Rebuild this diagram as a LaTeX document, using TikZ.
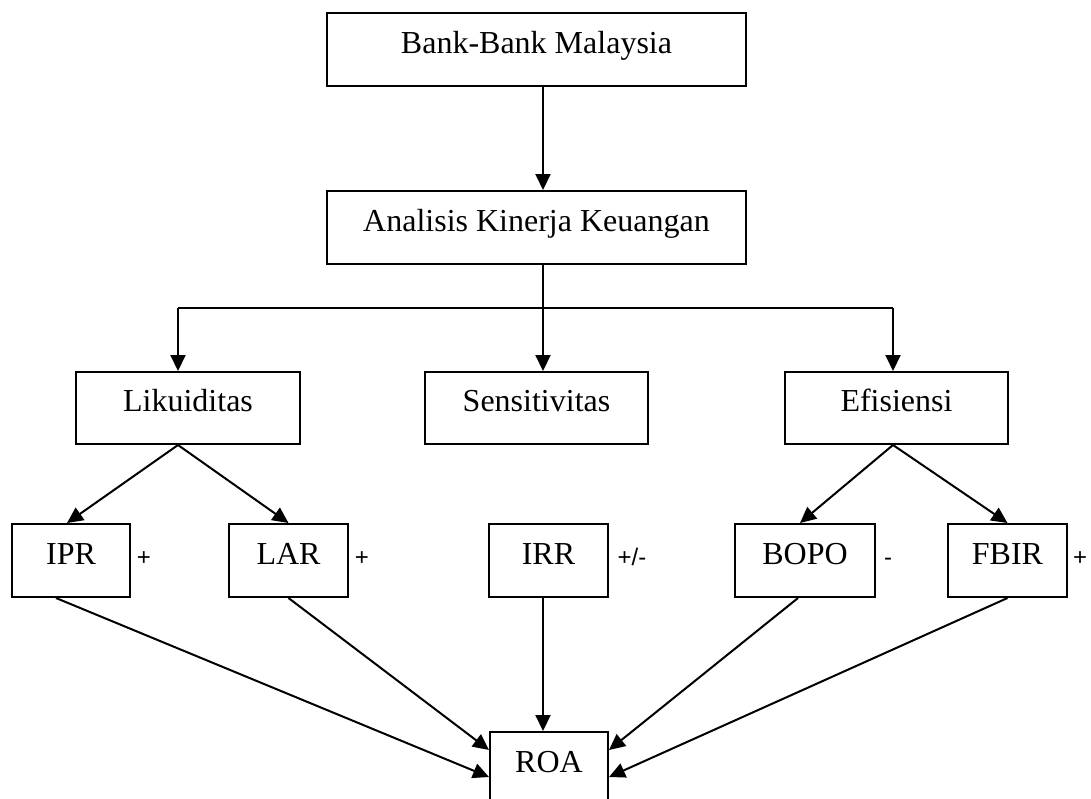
\documentclass[tikz,border=0pt]{standalone}
\usepackage{fontspec}
\setmainfont{Liberation Serif}
\newfontfamily\signfont{Liberation Sans}
\usetikzlibrary{arrows.meta,calc}
\begin{document}
\begin{tikzpicture}[x=0.5pt,y=-0.5pt,
  box/.style={draw,line width=1pt,rectangle,inner sep=0pt,text height=10.6pt,text depth=7pt,font=\fontsize{16}{19}\selectfont},
  sign/.style={inner sep=0pt,anchor=base,font=\signfont\fontsize{12}{14}\selectfont},
  arr/.style={line width=1pt,-{Triangle[length=8pt,width=7.5pt]}},
  ln/.style={line width=1pt}]
\useasboundingbox (0,0) rectangle (1091,798);
% top
\node[box,minimum width=209.5pt,minimum height=36.5pt] (bank) at (536.5,49.5) {Bank-Bank Malaysia};
\node[box,minimum width=209.5pt,minimum height=36.5pt] (ana) at (536.5,227.5) {Analisis Kinerja Keuangan};
% second row
\node[box,minimum width=112pt,minimum height=36pt] (lik) at (188,408) {Likuiditas};
\node[box,minimum width=111.5pt,minimum height=36pt] (sens) at (536.5,408) {Sensitivitas};
\node[box,minimum width=111.5pt,minimum height=36pt] (efi) at (896.5,408) {Efisiensi};
% third row
\node[box,minimum width=59pt,minimum height=36.5pt] (ipr) at (71,560.5) {IPR};
\node[box,minimum width=59.5pt,minimum height=36.5pt] (lar) at (288.5,560.5) {LAR};
\node[box,minimum width=59.5pt,minimum height=36.5pt] (irr) at (548.5,560.5) {IRR};
\node[box,minimum width=70pt,minimum height=36.5pt] (bopo) at (805,560.5) {BOPO};
\node[box,minimum width=59.5pt,minimum height=36.5pt] (fbir) at (1007.5,560.5) {FBIR};
% bottom
\node[box,minimum width=59pt,minimum height=36.5pt] (roa) at (549,768.5) {ROA};
% signs
\node[sign] (s1) at (144,565) {+};
\node[sign] (s2) at (362,565) {+};
\node[sign] (s3) at (632,565) {+/-};
\node[sign] (s4) at (888,565) {-};
\node[sign] (s5) at (1080,565) {+};
% branch points
\coordinate (bm) at (543,308);
\coordinate (bl) at (178,308);
\coordinate (br) at (893,308);
% connectors
\draw[arr] (bank.south -| bm) -- (ana.north -| bm);
\draw[ln] (ana.south -| bm) -- (bm);
\draw[ln] (bl) -- (br);
\draw[arr] (bm) -- (sens.north -| bm);
\draw[arr] (bl) -- (lik.north -| bl);
\draw[arr] (br) -- (efi.north -| br);
\draw[arr] (lik.south -| bl) -- ($(ipr.north)+(-4,0)$);
\draw[arr] (lik.south -| bl) -- (lar.north);
\draw[arr] (efi.south -| br) -- ($(bopo.north)+(-5,0)$);
\draw[arr] (efi.south -| br) -- (fbir.north);
\draw[arr] ($(ipr.south)+(-15,0)$) -- ($(roa.north west)+(0,46)$);
\draw[arr] (lar.south) -- ($(roa.north west)+(0,19)$);
\draw[arr] (irr.south -| bm) -- (roa.north -| bm);
\draw[arr] ($(bopo.south)+(-7,0)$) -- ($(roa.north east)+(0,19)$);
\draw[arr] (fbir.south) -- ($(roa.north east)+(0,46)$);
\end{tikzpicture}
\end{document}
